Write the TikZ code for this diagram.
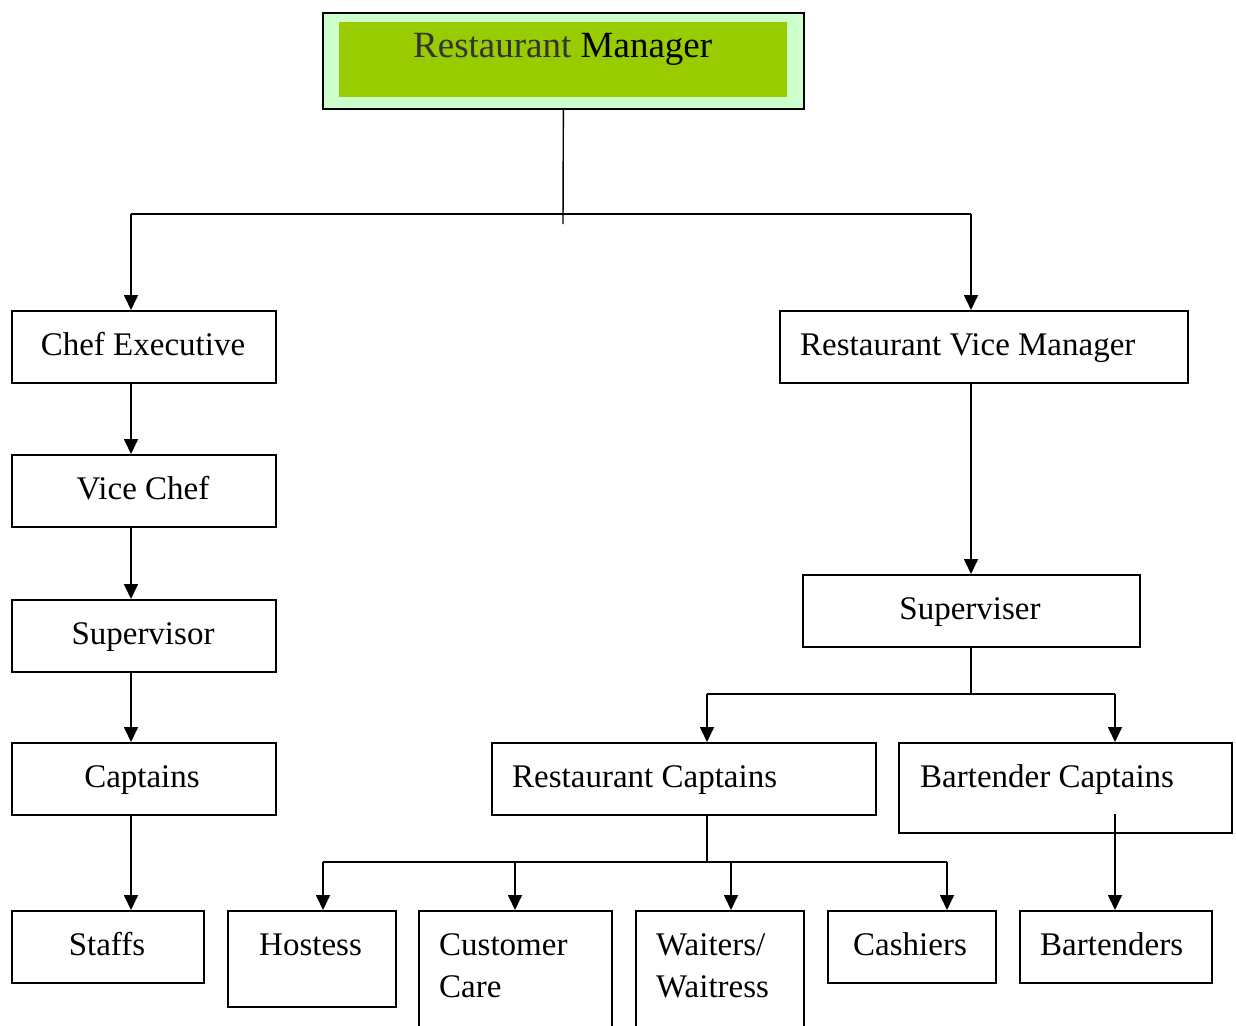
\documentclass[tikz,border=0pt]{standalone}
\usepackage{fontspec}
\setmainfont{Liberation Serif}
\usetikzlibrary{arrows.meta}
\definecolor{outergreen}{HTML}{CCFFCC}
\definecolor{innergreen}{HTML}{99CC00}
\definecolor{darkgraytxt}{HTML}{333333}
\begin{document}
\begin{tikzpicture}[x=1pt,y=-1pt]
\tikzset{
  box/.style={draw,line width=1.7pt,inner sep=0pt,anchor=north west},
  lbl/.style={anchor=base west,inner sep=0pt,font=\fontsize{33}{40}\selectfont},
  lblc/.style={anchor=base,inner sep=0pt,font=\fontsize{33}{40}\selectfont},
  conn/.style={line width=1.7pt},
  arr/.style={line width=1.7pt,-{Triangle[width=14pt,length=15pt]}}
}
\useasboundingbox (0,0) rectangle (1236,1025);
\clip (0,0) rectangle (1236,1025);
\fill[white] (0,0) rectangle (1236,1025);
% top box
\node[box,fill=outergreen,minimum width=481pt,minimum height=96pt] (rm) at (322,12) {};
\node[anchor=north west,fill=innergreen,inner sep=0pt,minimum width=448pt,minimum height=75pt] (rmin) at (339,22) {};
\node[anchor=base west,inner sep=0pt,font=\fontsize{37}{44}\selectfont] (rmt) at (413,58) {\textcolor{darkgraytxt}{Restaurant} Manager};
% left column
\node[box,minimum width=264pt,minimum height=72pt] (ce) at (11,310) {};
\node[box,minimum width=264pt,minimum height=72pt] (vc) at (11,454) {};
\node[box,minimum width=264pt,minimum height=72pt] (sv) at (11,599) {};
\node[box,minimum width=264pt,minimum height=72pt] (cp) at (11,742) {};
\node[box,minimum width=192pt,minimum height=72pt] (st) at (11,910) {};
% right side
\node[box,minimum width=408pt,minimum height=72pt] (rvm) at (779,310) {};
\node[box,minimum width=337pt,minimum height=72pt] (sr) at (802,574) {};
\node[box,minimum width=384pt,minimum height=72pt] (rc) at (491,742) {};
\node[box,minimum width=333pt,minimum height=90pt] (bc) at (898,742) {};
% bottom row
\node[box,minimum width=168pt,minimum height=96pt] (ho) at (227,910) {};
\node[box,minimum width=193pt,minimum height=140pt] (cc) at (418,910) {};
\node[box,minimum width=168pt,minimum height=140pt] (ww) at (635,910) {};
\node[box,minimum width=168pt,minimum height=72pt] (ca) at (827,910) {};
\node[box,minimum width=192pt,minimum height=72pt] (bt) at (1019,910) {};
% labels
\node[lblc] (tce) at (143,355) {Chef Executive};
\node[lblc] (tvc) at (143,499) {Vice Chef};
\node[lblc] (tsv) at (143,644) {Supervisor};
\node[lblc] (tcp) at (142,787) {Captains};
\node[lblc] (tst) at (107,955) {Staffs};
\node[lbl] (trvm) at (800,355) {Restaurant Vice Manager};
\node[lblc] (tsr) at (970,619) {Superviser};
\node[lbl] (trc) at (512,787) {Restaurant Captains};
\node[lbl] (tbc) at (920,787) {Bartender Captains};
\node[lbl] (tho) at (259,955) {Hostess};
\node[lbl] (tcc1) at (439,955) {Customer};
\node[lbl] (tcc2) at (439,997) {Care};
\node[lbl] (tww1) at (656,955) {Waiters/};
\node[lbl] (tww2) at (656,997) {Waitress};
\node[lbl] (tca) at (853,955) {Cashiers};
\node[lbl] (tbt) at (1040,955) {Bartenders};
% connectors: top level
\coordinate (rmb) at (563,224);
\coordinate (hL) at (131,214);
\coordinate (hR) at (971,214);
\draw[line width=1.4pt] (rm.south) -- (rmb);
\draw[conn] (hL) -- (hR);
\draw[arr] (hL) -- (hL |- ce.north);
\draw[arr] (hR) -- (hR |- rvm.north);
% left chain
\coordinate (lx) at (131,0);
\draw[arr] (lx |- ce.south) -- (lx |- vc.north);
\draw[arr] (lx |- vc.south) -- (lx |- sv.north);
\draw[arr] (lx |- sv.south) -- (lx |- cp.north);
\draw[arr] (lx |- cp.south) -- (lx |- st.north);
% right chain
\coordinate (rx) at (971,0);
\draw[arr] (rx |- rvm.south) -- (rx |- sr.north);
\coordinate (sj) at (971,694);
\coordinate (sjL) at (707,694);
\coordinate (sjR) at (1115,694);
\draw[conn] (rx |- sr.south) -- (sj);
\draw[conn] (sjL) -- (sjR);
\draw[arr] (sjL) -- (sjL |- rc.north);
\draw[arr] (sjR) -- (sjR |- bc.north);
% restaurant captains branch
\coordinate (rj) at (707,862);
\coordinate (b1) at (323,862);
\coordinate (b2) at (515,862);
\coordinate (b3) at (731,862);
\coordinate (b4) at (947,862);
\draw[conn] (rj |- rc.south) -- (rj);
\draw[conn] (b1) -- (b4);
\draw[arr] (b1) -- (b1 |- ho.north);
\draw[arr] (b2) -- (b2 |- cc.north);
\draw[arr] (b3) -- (b3 |- ww.north);
\draw[arr] (b4) -- (b4 |- ca.north);
% bartender captains to bartenders
\coordinate (bcs) at (1115,814);
\draw[arr] (bcs) -- (bcs |- bt.north);
\end{tikzpicture}
\end{document}
